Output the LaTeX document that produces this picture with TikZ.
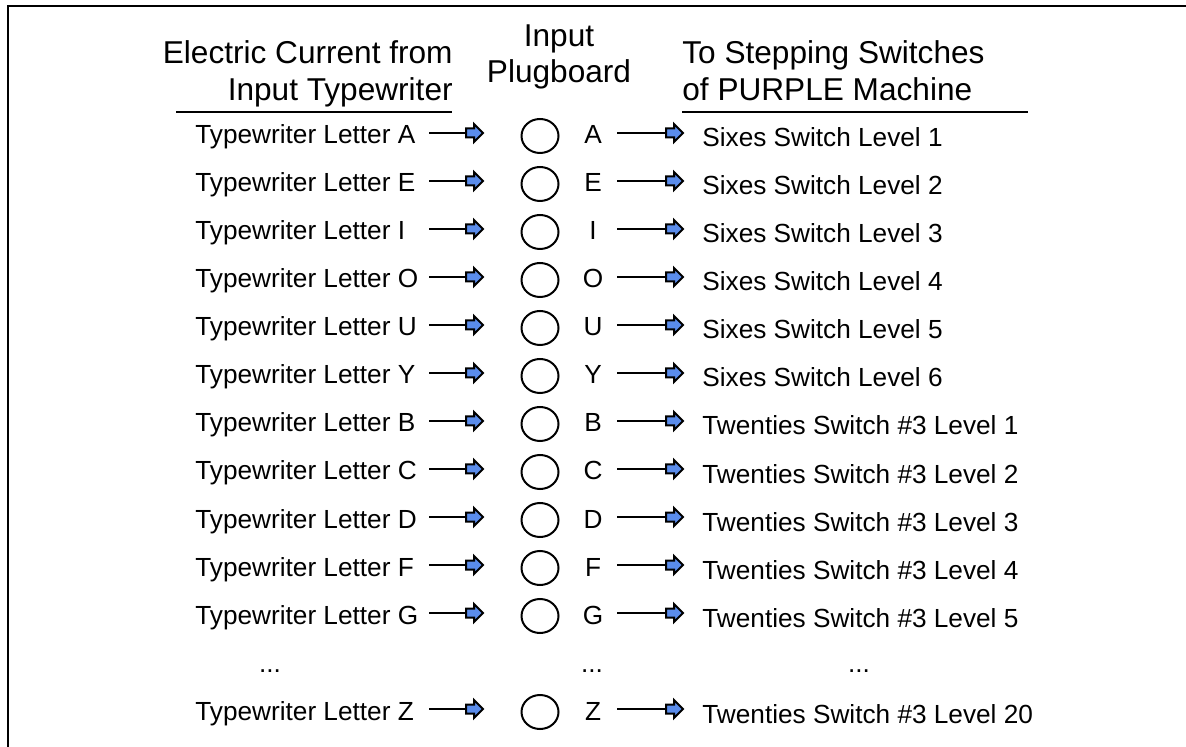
\documentclass[tikz,border=0pt]{standalone}
\usepackage{fontspec}
\setmainfont{Liberation Sans}
\usetikzlibrary{shapes.geometric}
\definecolor{arrowblue}{RGB}{90,140,235}
\tikzset{
  rowtxt/.style={font=\fontsize{13.1}{15}\selectfont, inner sep=0pt},
  hdr/.style={font=\fontsize{15.8}{18}\selectfont, inner sep=0pt},
  wire/.style={line width=1pt},
  rulel/.style={line width=1.3pt},
  plug/.style={draw, line width=1pt, ellipse, inner sep=0pt, minimum width=18.5pt, minimum height=17pt},
  blockhead/.pic={\draw[line width=1pt, fill=arrowblue, line join=miter]
     (-17,-4.5) -- (-9,-4.5) -- (-9,-9) -- (0,0) -- (-9,9) -- (-9,4.5) -- (-17,4.5) -- cycle;}
}
\newcommand\plugrow[3]{%
  \pgfmathsetmacro\ya{133+48*#1}%
  \pgfmathsetmacro\yb{144+48*#1}%
  \pgfmathsetmacro\yc{136+48*#1}%
  \pgfmathsetmacro\yr{147+48*#1}%
  \node[rowtxt, anchor=base west] (lt#2) at (195,\yb) {Typewriter Letter #2};
  \node[plug] (pc#2) at (540,\yc) {};
  \node[rowtxt, anchor=base] (ml#2) at (593,\yb) {#2};
  \node[rowtxt, anchor=base west] (rt#2) at (702,\yr) {#3};
  \coordinate (as#2) at (429,\ya);
  \coordinate (ae#2) at (483,\ya);
  \coordinate (bs#2) at (617,\ya);
  \coordinate (be#2) at (683,\ya);
  \draw[wire] (as#2) -- (ae#2);
  \pic at (ae#2) {blockhead};
  \draw[wire] (bs#2) -- (be#2);
  \pic at (be#2) {blockhead};
}
\begin{document}
\begin{tikzpicture}[x=0.5pt,y=-0.5pt]
\useasboundingbox (0,0) rectangle (1186,747);
\draw[line width=1.25pt] (8,747) -- (8,6) -- (1186,6);
% headers
\node[hdr, anchor=base east] (hl1) at (453,64) {Electric Current from};
\node[hdr, anchor=base east] (hl2) at (453,100.5) {Input Typewriter};
\node[hdr, anchor=base] (hm1) at (559,47) {Input};
\node[hdr, anchor=base] (hm2) at (559,83) {Plugboard};
\node[hdr, anchor=base west] (hr1) at (682,64) {To Stepping Switches};
\node[hdr, anchor=base west] (hr2) at (682,100.5) {of PURPLE Machine};
\draw[rulel] (176,112) -- (452,112);
\draw[rulel] (682,112) -- (1028,112);
% rows
\foreach \L/\R [count=\n from 0] in {
  A/Sixes Switch Level 1,
  E/Sixes Switch Level 2,
  I/Sixes Switch Level 3,
  O/Sixes Switch Level 4,
  U/Sixes Switch Level 5,
  Y/Sixes Switch Level 6,
  B/Twenties Switch \#3 Level 1,
  C/Twenties Switch \#3 Level 2,
  D/Twenties Switch \#3 Level 3,
  F/Twenties Switch \#3 Level 4,
  G/Twenties Switch \#3 Level 5}
{\plugrow{\n}{\L}{\R}}
\node[rowtxt, anchor=base] (dotl) at (270,672) {...};
\node[rowtxt, anchor=base] (dotm) at (592,672) {...};
\node[rowtxt, anchor=base] (dotr) at (859,672) {...};
\plugrow{12}{Z}{Twenties Switch \#3 Level 20}
\end{tikzpicture}
\end{document}
